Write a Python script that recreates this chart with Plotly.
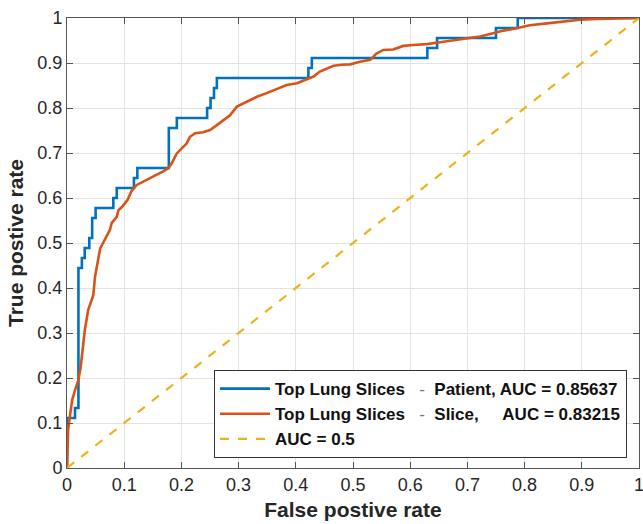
import plotly.graph_objects as go

# Patient-level ROC (step curve)
patient_fpr = [0, 0, 0.014, 0.014, 0.020, 0.020, 0.026, 0.026, 0.031, 0.031, 0.039, 0.039,
               0.044, 0.044, 0.050, 0.050, 0.081, 0.081, 0.087, 0.087, 0.117, 0.117, 0.123, 0.123,
               0.178, 0.178, 0.192, 0.192, 0.245, 0.245, 0.251, 0.251, 0.257, 0.257, 0.262, 0.262,
               0.422, 0.422, 0.428, 0.428, 0.630, 0.630, 0.647, 0.647, 0.750, 0.750, 0.788, 0.788, 1.0]
patient_tpr_n = [0, 5, 5, 6, 6, 20, 20, 21, 21, 22, 22, 23,
                 23, 25, 25, 26, 26, 27, 27, 28, 28, 29, 29, 30,
                 30, 34, 34, 35, 35, 36, 36, 37, 37, 38, 38, 39,
                 39, 40, 40, 41, 41, 42, 42, 43, 43, 44, 44, 45, 45]
n_pos = 45
patient_tpr = [v / n_pos for v in patient_tpr_n]

# Slice-level ROC
slice_fpr = [0, 0.001, 0.002, 0.005, 0.009, 0.014, 0.020, 0.024, 0.027, 0.031, 0.037, 0.043,
             0.046, 0.049, 0.051, 0.055, 0.058, 0.063, 0.069, 0.075, 0.078, 0.087, 0.090, 0.096,
             0.106, 0.113, 0.122, 0.133, 0.145, 0.157, 0.168, 0.177, 0.183, 0.192, 0.200, 0.209,
             0.215, 0.224, 0.238, 0.250, 0.262, 0.273, 0.285, 0.297, 0.314, 0.332, 0.349, 0.367,
             0.384, 0.402, 0.419, 0.431, 0.442, 0.454, 0.466, 0.480, 0.495, 0.512, 0.530, 0.541,
             0.553, 0.570, 0.588, 0.605, 0.629, 0.652, 0.675, 0.699, 0.722, 0.745, 0.763, 0.786,
             0.809, 0.839, 0.868, 0.897, 0.926, 0.955, 0.996, 1.0]
slice_tpr = [0, 0.040, 0.084, 0.114, 0.151, 0.173, 0.196, 0.225, 0.262, 0.305, 0.351, 0.373,
             0.384, 0.425, 0.440, 0.466, 0.488, 0.500, 0.514, 0.529, 0.544, 0.558, 0.573, 0.580,
             0.596, 0.616, 0.629, 0.636, 0.644, 0.651, 0.659, 0.666, 0.677, 0.699, 0.710, 0.721,
             0.736, 0.744, 0.746, 0.751, 0.762, 0.773, 0.784, 0.803, 0.814, 0.825, 0.833, 0.842,
             0.851, 0.855, 0.864, 0.870, 0.881, 0.888, 0.894, 0.896, 0.897, 0.903, 0.907, 0.921,
             0.929, 0.930, 0.938, 0.940, 0.942, 0.946, 0.950, 0.955, 0.959, 0.966, 0.972, 0.977,
             0.984, 0.988, 0.992, 0.996, 0.998, 0.999, 1.0, 1.0]

chance_x = [0, 1]
chance_y = [0, 1]

tick_vals = [0, 0.1, 0.2, 0.3, 0.4, 0.5, 0.6, 0.7, 0.8, 0.9, 1]
tick_text = ["0", "0.1", "0.2", "0.3", "0.4", "0.5", "0.6", "0.7", "0.8", "0.9", "1"]

NB = "\u00a0"
dash = '<span style="font-weight:normal;color:#777">-</span>'
name1 = f"<b>Top Lung Slices{NB}{NB}{NB}</b>{dash}<b>{NB}{NB}Patient, AUC = 0.85637</b>"
name2 = f"<b>Top Lung Slices{NB}{NB}{NB}</b>{dash}<b>{NB}{NB}Slice,{NB}{NB}{NB}{NB}{NB}AUC = 0.83215</b>"
name3 = "<b>AUC = 0.5</b>"

FONT = "Liberation Sans, Arial"

fig = go.Figure()
fig.add_trace(go.Scatter(x=patient_fpr, y=patient_tpr, mode="lines", name=name1,
                         line=dict(color="#0072BD", width=2.6)))
fig.add_trace(go.Scatter(x=slice_fpr, y=slice_tpr, mode="lines", name=name2,
                         line=dict(color="#D95319", width=2.6)))
fig.add_trace(go.Scatter(x=chance_x, y=chance_y, mode="lines", name=name3,
                         line=dict(color="#EDB120", width=2.2, dash="dash")))

axis_common = dict(
    range=[0, 1], tickvals=tick_vals, ticktext=tick_text, automargin=False,
    showline=True, linecolor="#555555", linewidth=1, mirror="ticks",
    ticks="inside", ticklen=6, tickcolor="#555555", ticklabeloverflow="allow",
    showgrid=True, gridcolor="#e3e3e3", gridwidth=1, zeroline=False,
    tickfont=dict(family=FONT, size=18, color="#262626"),
)

fig.update_layout(
    width=643, height=524,
    margin=dict(l=67, r=4, t=18, b=56, autoexpand=False),
    plot_bgcolor="white", paper_bgcolor="white",
    xaxis=dict(**axis_common,
               title=dict(text="<b>False postive rate</b>", standoff=8,
                          font=dict(family=FONT, size=21, color="#262626"))),
    yaxis=dict(**axis_common,
               title=dict(text="<b>True postive rate</b>", standoff=8,
                          font=dict(family=FONT, size=21, color="#262626"))),
    legend=dict(x=0.979, y=0.022, xanchor="right", yanchor="bottom",
                bgcolor="white", bordercolor="#333333", borderwidth=1,
                font=dict(family=FONT, size=17, color="#111111"),
                itemwidth=50, tracegroupgap=0),
    showlegend=True,
)

fig.write_html("out.html", config={"displayModeBar": False},
               post_script="document.body.style.margin='0';document.body.style.overflow='hidden';")
